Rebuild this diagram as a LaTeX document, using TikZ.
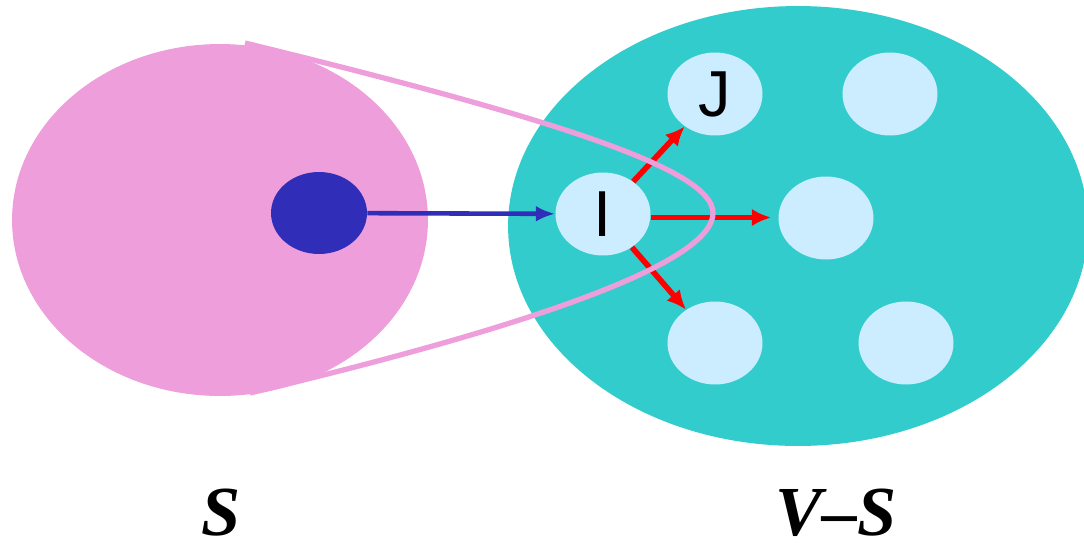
\documentclass[tikz,border=0pt]{standalone}
\usepackage{fontspec}
\setmainfont{Liberation Serif}
\setsansfont{Liberation Sans}
\usetikzlibrary{shapes.geometric,arrows.meta}
\definecolor{setpink}{RGB}{238,158,218}
\definecolor{setteal}{RGB}{51,204,204}
\definecolor{vtxblue}{RGB}{204,236,255}
\definecolor{srcblue}{RGB}{48,45,185}
\tikzset{
  setblob/.style={ellipse,inner sep=0pt},
  vtx/.style={ellipse,fill=vtxblue,inner sep=0pt,minimum width=1.9cm,minimum height=1.66cm,
    font=\sffamily\fontsize{37}{37}\selectfont},
  setname/.style={inner sep=0pt,font=\bfseries\itshape\fontsize{40}{40}\selectfont},
  cutedge/.style={->,>={Latex[length=11pt,width=10pt]},red,line width=3.2pt},
  srcedge/.style={->,>={Latex[length=11pt,width=9pt]},srcblue,line width=2.6pt},
  loopline/.style={setpink,line width=3pt}
}

\begin{document}
\begin{tikzpicture}[x=0.02cm,y=-0.02cm]
\useasboundingbox (0,0) rectangle (1084,548);

\node[setblob,fill=setpink,minimum width=8.32cm,minimum height=7.04cm] (S) at (220,220) {};
\node[setblob,fill=setteal,minimum width=11.6cm,minimum height=8.8cm] (VS) at (798,226) {};

\node[setblob,fill=srcblue,minimum width=1.92cm,minimum height=1.64cm] (src) at (319,213) {};

\node[vtx] (I) at (603,214) {I};
\node[vtx] (J) at (715,94) {J};
\node[vtx] (TR) at (890,94) {};
\node[vtx] (M) at (826,218) {};
\node[vtx] (BL) at (715,343) {};
\node[vtx] (BR) at (906,343) {};

\draw[srcedge] (src) -- (I);
\draw[cutedge] (I) -- (J);
\draw[cutedge,shorten >=4pt] ([yshift=-2pt]I.east) -- ([yshift=-2pt]I.east -| M.west);
\draw[cutedge] (I) -- (BL);

\coordinate (top) at (245,43);
\coordinate (tip) at (713,213);
\coordinate (bot) at (250,393);
\draw[loopline] (top) .. controls (560,120) and (713,170) .. (tip)
  .. controls (713,258) and (565,318) .. (bot);

\node[setname] (Slab) at (221,513) {S};
\node[setname] (VSlab) at (836,513) {V--S};

\end{tikzpicture}
\end{document}
